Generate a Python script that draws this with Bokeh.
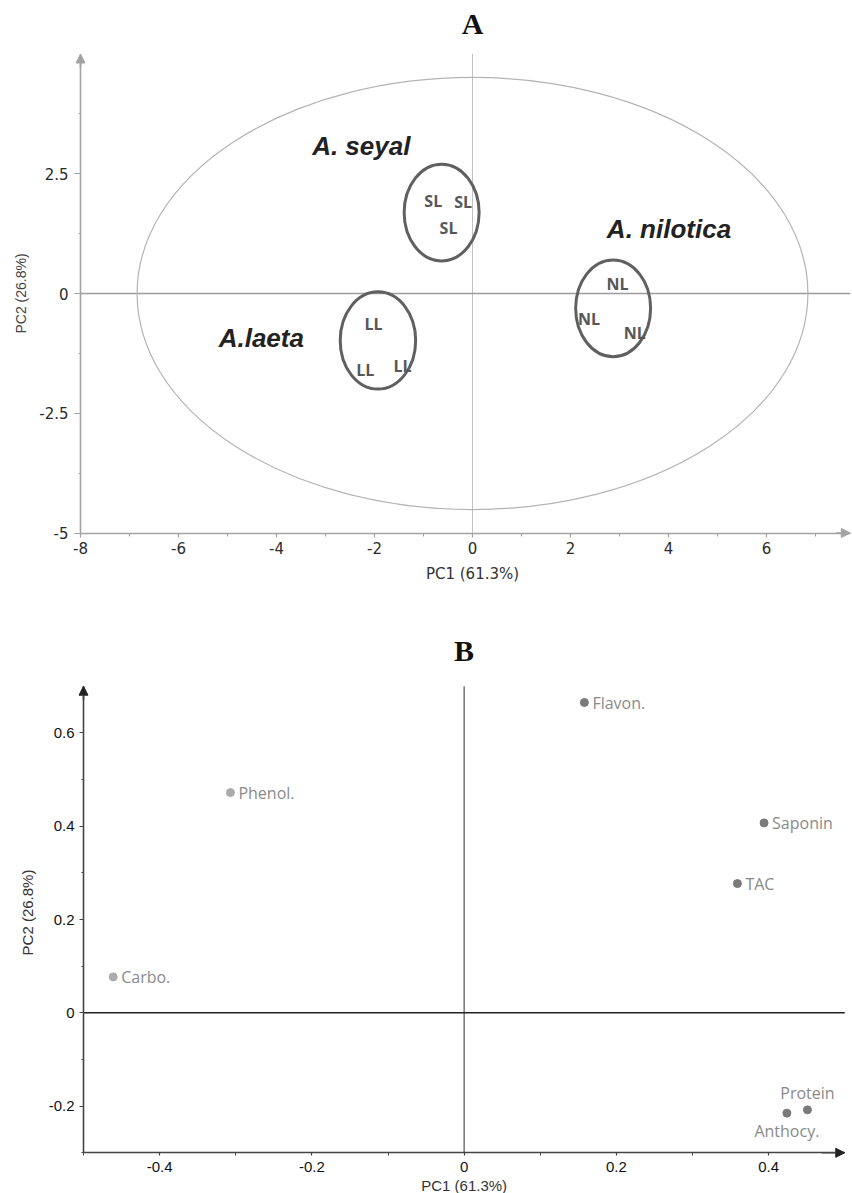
from bokeh.plotting import figure
from bokeh.models import Range1d, FixedTicker, Arrow, NormalHead, ColumnDataSource, Label
from bokeh.layouts import column
from bokeh.core.properties import value
from bokeh.embed import file_html
from bokeh.resources import INLINE

# ---------------- Panel A: scores ----------------
sample_labels = ["SL", "SL", "SL", "LL", "LL", "LL", "NL", "NL", "NL"]
pc1_scores = [-0.80, -0.19, -0.49, -2.02, -2.19, -1.43, 2.96, 2.38, 3.31]
pc2_scores = [1.94, 1.90, 1.375, -0.63, -1.60, -1.51, 0.19, -0.53, -0.83]

group_names = ["A. seyal", "A.laeta", "A. nilotica"]
group_cx = [-0.63, -1.93, 2.87]
group_cy = [1.69, -0.98, -0.31]
group_w = [1.53, 1.54, 1.53]
group_h = [2.02, 2.03, 2.02]
group_label_x = [-2.27, -4.31, 4.01]
group_label_y = [3.08, -0.92, 1.35]

t2_center = [0.0, 0.0]
t2_size = [13.69, 9.02]

xticks_A = [-8, -6, -4, -2, 0, 2, 4, 6]
xminor_A = [-7, -5, -3, -1, 1, 3, 5, 7]
yticks_A = [-5, -2.5, 0, 2.5]
yminor_A = [-3.75, -1.25, 1.25, 3.75]
xlim_A = [-8, 7.71]
ylim_A = [-5, 5]

# ---------------- Panel B: loadings ----------------
variables = ["Flavon.", "Phenol.", "Saponin", "TAC", "Carbo.", "Protein", "Anthocy."]
pc1_load = [0.158, -0.307, 0.394, 0.359, -0.461, 0.451, 0.424]
pc2_load = [0.665, 0.472, 0.407, 0.277, 0.077, -0.208, -0.215]
var_group = ["dark", "light", "dark", "dark", "light", "dark", "dark"]

xticks_B = [-0.4, -0.2, 0, 0.2, 0.4]
xminor_B = [-0.5, -0.3, -0.1, 0.1, 0.3]
yticks_B = [-0.2, 0, 0.2, 0.4, 0.6]
yminor_B = [-0.3, -0.1, 0.1, 0.3, 0.5]
xlim_B = [-0.5, 0.5]
ylim_B = [-0.3, 0.7]

x_label = "PC1 (61.3%)"
y_label = "PC2 (26.8%)"

W = 852
HA, HB = 600, 593


def fmt(ticks):
    return {t: f"{t:g}" for t in ticks}


def make_ranges(x_anchor_val, x_anchor_px, xppu, y_anchor_val, y_anchor_px, yppu, h):
    xs = x_anchor_val - x_anchor_px / xppu
    ys = y_anchor_val - (h - y_anchor_px) / yppu
    return Range1d(xs, xs + W / xppu), Range1d(ys, ys + h / yppu)


def style_axis(ax, color, lw, tick_out, minor_out, standoff, font, size, lab_color, bounds):
    ax.axis_line_color = color
    ax.axis_line_width = lw
    ax.major_tick_line_color = color
    ax.minor_tick_line_color = color
    ax.major_tick_line_width = 1.2
    ax.minor_tick_line_width = 1
    ax.major_tick_in = 0
    ax.major_tick_out = tick_out
    ax.minor_tick_in = 0
    ax.minor_tick_out = minor_out
    ax.major_label_text_color = lab_color
    ax.major_label_text_font = font
    ax.major_label_text_font_size = size
    ax.major_label_standoff = standoff
    ax.bounds = tuple(bounds)


def base_fig(xr, yr, h):
    p = figure(width=W, height=h, output_backend="svg", toolbar_location=None,
               x_range=xr, y_range=yr, min_border=0, title=None)
    p.xgrid.visible = False
    p.ygrid.visible = False
    p.outline_line_color = None
    p.background_fill_color = "white"
    p.border_fill_color = "white"
    return p


# ---------------- build A ----------------
xrA, yrA = make_ranges(xlim_A[0], 80, 49.0, ylim_A[0], 532.5, 47.9, HA)
pA = base_fig(xrA, yrA, HA)
pA.xaxis.ticker = FixedTicker(ticks=xticks_A, minor_ticks=xminor_A)
pA.yaxis.ticker = FixedTicker(ticks=yticks_A, minor_ticks=yminor_A)
pA.xaxis.major_label_overrides = fmt(xticks_A)
pA.yaxis.major_label_overrides = fmt(yticks_A)
pA.xaxis.fixed_location = ylim_A[0]
pA.yaxis.fixed_location = xlim_A[0]
axA_col = "#a3a3a3"
style_axis(pA.xaxis[0], axA_col, 1.6, 4, 3, 5, "DejaVu Sans", "15px", "#2a2a2a", xlim_A)
style_axis(pA.yaxis[0], axA_col, 1.6, 6, 2, 6, "DejaVu Sans", "15px", "#2a2a2a", ylim_A)

pA.segment(x0=[0], y0=[ylim_A[0]], x1=[0], y1=[ylim_A[1]], line_color="#c0c0c0", line_width=1)
pA.segment(x0=[xlim_A[0]], y0=[0], x1=[xlim_A[1]], y1=[0], line_color="#9c9c9c", line_width=1.4)

pA.ellipse(x=[t2_center[0]], y=[t2_center[1]], width=[t2_size[0]], height=[t2_size[1]],
           fill_color=None, line_color="#b4b4b4", line_width=1.2)
pA.ellipse(x=group_cx, y=group_cy, width=group_w, height=group_h,
           fill_color=None, line_color="#606060", line_width=3)
pA.text(x=pc1_scores, y=pc2_scores, text=sample_labels,
        text_font=value("Open Sans"), text_font_style="bold", text_font_size="16px",
        text_color="#575757", text_align="center", text_baseline="middle")
pA.text(x=group_label_x, y=group_label_y, text=group_names,
        text_font=value("Liberation Sans"), text_font_style="bold italic",
        text_font_size="26px", text_color="#222222", text_align="center",
        text_baseline="middle")

pA.add_layout(Arrow(end=NormalHead(size=9, fill_color=axA_col, line_color=axA_col),
                    x_start=xlim_A[0], y_start=ylim_A[1] - 0.3, x_end=xlim_A[0], y_end=ylim_A[1],
                    line_color=axA_col, line_width=1.6))
pA.add_layout(Arrow(end=NormalHead(size=9, fill_color=axA_col, line_color=axA_col),
                    x_start=xlim_A[1] - 0.3, y_start=ylim_A[0], x_end=xlim_A[1], y_end=ylim_A[0],
                    line_color=axA_col, line_width=1.6))

pA.add_layout(Label(x=0, y=5.643, text="A", text_font="Liberation Serif",
                    text_font_style="bold", text_font_size="30px", text_color="#111111",
                    text_align="center", text_baseline="middle"))
pA.add_layout(Label(x=0, y=-5.856, text=x_label, text_font="DejaVu Sans",
                    text_font_size="15px", text_color="#333333",
                    text_align="center", text_baseline="middle"))
pA.add_layout(Label(x=-9.224, y=0, text=y_label, text_font="Liberation Sans",
                    text_font_size="14px", text_color="#444444", angle=1.5707963,
                    text_align="center", text_baseline="middle"))

# ---------------- build B ----------------
xrB, yrB = make_ranges(xlim_B[0], 83.0, 761.25, ylim_B[0], 552.3, 466.6, HB)
pB = base_fig(xrB, yrB, HB)
pB.xaxis.ticker = FixedTicker(ticks=xticks_B, minor_ticks=xminor_B)
pB.yaxis.ticker = FixedTicker(ticks=yticks_B, minor_ticks=yminor_B)
pB.xaxis.major_label_overrides = fmt(xticks_B)
pB.yaxis.major_label_overrides = fmt(yticks_B)
pB.xaxis.fixed_location = ylim_B[0]
pB.yaxis.fixed_location = xlim_B[0]
axB_col = "#444444"
style_axis(pB.xaxis[0], axB_col, 1.6, 3, 3, 6, "Liberation Sans", "15px", "#111111", xlim_B)
style_axis(pB.yaxis[0], axB_col, 1.6, 4, 2, 5, "Liberation Sans", "15px", "#111111", ylim_B)

pB.segment(x0=[0], y0=[ylim_B[0]], x1=[0], y1=[ylim_B[1]], line_color="#444444", line_width=1.1)
pB.segment(x0=[xlim_B[0]], y0=[0], x1=[xlim_B[1]], y1=[0], line_color="#222222", line_width=1.6)

colors = {"dark": "#7a7a7a", "light": "#ababab"}
src_all = ColumnDataSource(dict(x=pc1_load, y=pc2_load, name=variables,
                                color=[colors[g] for g in var_group]))
pB.scatter(x="x", y="y", source=src_all, size=8, fill_color="color", line_color="color")

right_idx = [i for i, v in enumerate(variables) if v not in ("Protein", "Anthocy.")]
src_right = ColumnDataSource(dict(x=[pc1_load[i] for i in right_idx],
                                  y=[pc2_load[i] for i in right_idx],
                                  name=[variables[i] for i in right_idx]))
pB.text(x="x", y="y", text="name", source=src_right, x_offset=8,
        text_font=value("Open Sans"), text_font_size="16px", text_color="#8a8a8a",
        text_align="left", text_baseline="middle")
ip = variables.index("Protein")
ia = variables.index("Anthocy.")
pB.text(x=[pc1_load[ip]], y=[pc2_load[ip]], text=[variables[ip]], y_offset=-17,
        text_font=value("Open Sans"), text_font_size="16px", text_color="#8a8a8a",
        text_align="center", text_baseline="middle")
pB.text(x=[pc1_load[ia]], y=[pc2_load[ia]], text=[variables[ia]], y_offset=18,
        text_font=value("Open Sans"), text_font_size="16px", text_color="#8a8a8a",
        text_align="center", text_baseline="middle")

pB.add_layout(Arrow(end=NormalHead(size=9, fill_color="#222222", line_color="#222222"),
                    x_start=xlim_B[0], y_start=ylim_B[1] - 0.03, x_end=xlim_B[0], y_end=ylim_B[1],
                    line_color=axB_col, line_width=1.6))
pB.add_layout(Arrow(end=NormalHead(size=9, fill_color="#222222", line_color="#222222"),
                    x_start=xlim_B[1] - 0.03, y_start=ylim_B[0], x_end=xlim_B[1], y_end=ylim_B[0],
                    line_color=axB_col, line_width=1.6))

pB.add_layout(Label(x=0, y=0.7765, text="B", text_font="Liberation Serif",
                    text_font_style="bold", text_font_size="30px", text_color="#111111",
                    text_align="center", text_baseline="middle"))
pB.add_layout(Label(x=0, y=-0.370, text=x_label, text_font="Liberation Sans",
                    text_font_size="15px", text_color="#333333",
                    text_align="center", text_baseline="middle"))
pB.add_layout(Label(x=-0.5735, y=0.215, text=y_label, text_font="Liberation Sans",
                    text_font_size="15px", text_color="#333333", angle=1.5707963,
                    text_align="center", text_baseline="middle"))

layout = column(pA, pB, spacing=0)
open("out.html", "w").write(file_html(layout, INLINE))
